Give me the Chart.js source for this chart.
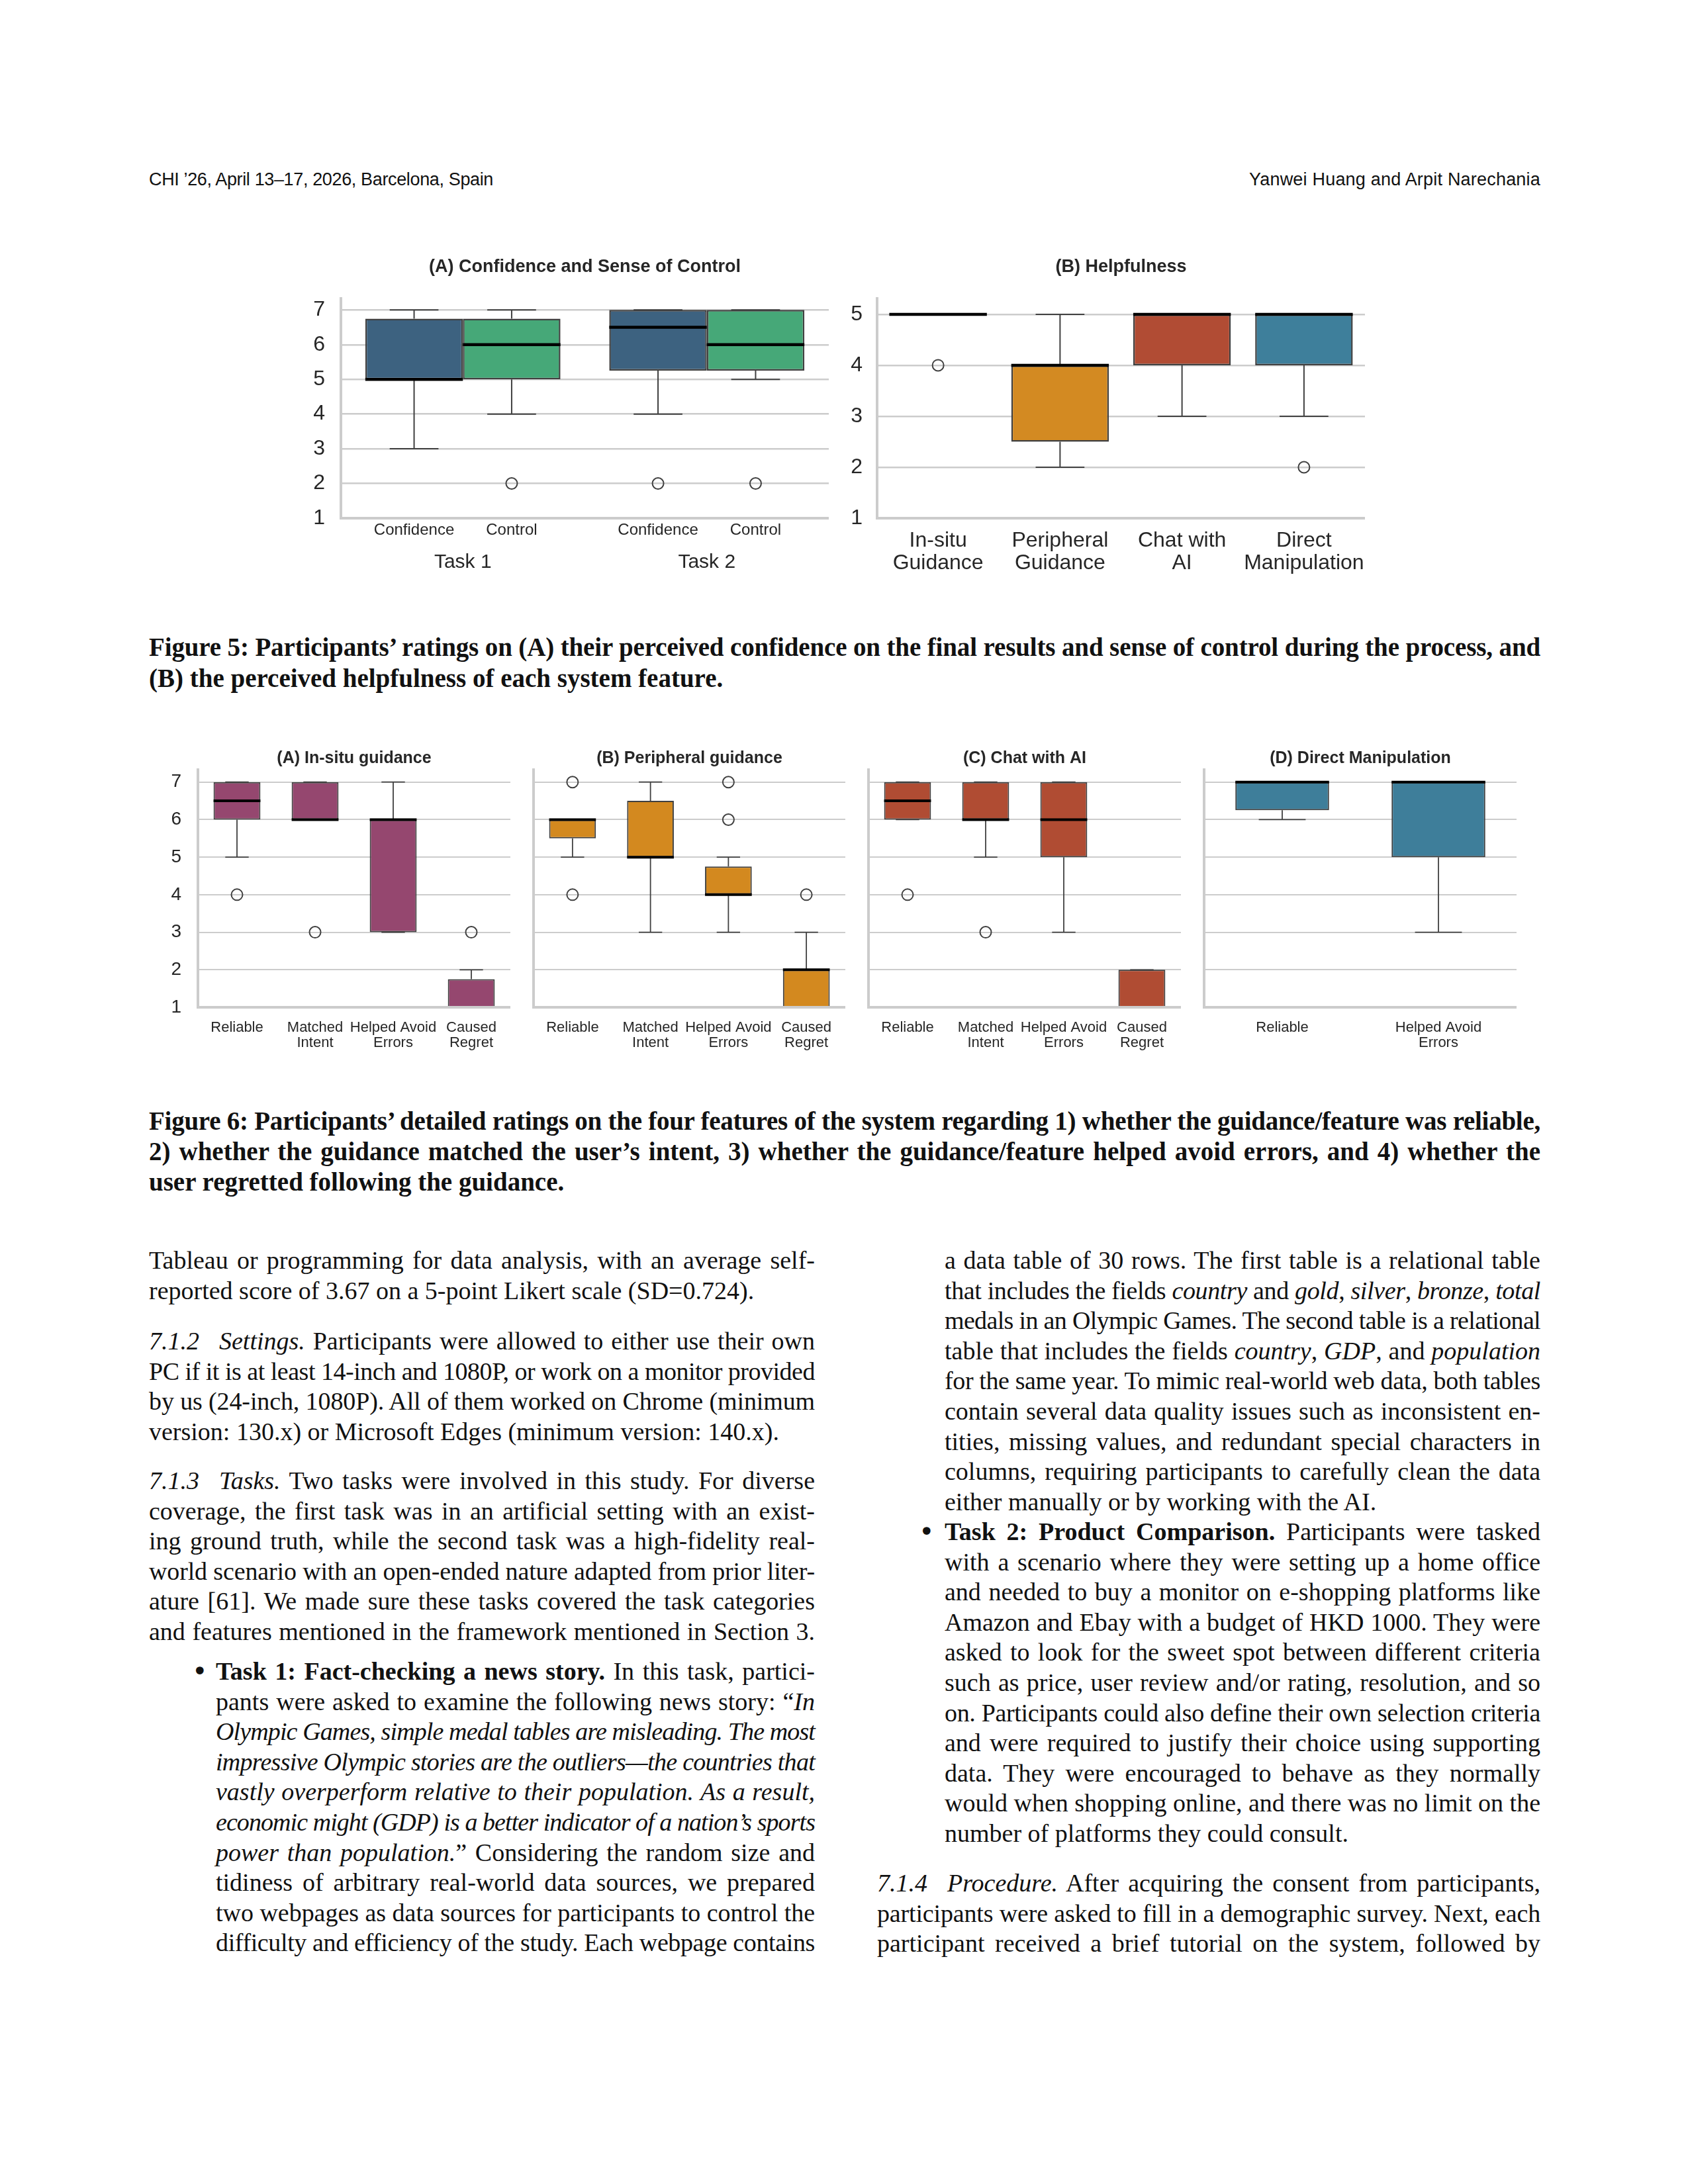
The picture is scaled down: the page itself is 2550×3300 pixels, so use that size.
<!DOCTYPE html>
<html>
<head>
<meta charset="utf-8">
<script src="https://cdn.jsdelivr.net/npm/chart.js@4.4.1/dist/chart.umd.min.js"></script>
<style>
  body { margin: 0; background: #fff; }
  #page { position: relative; width: 2550px; height: 3300px; background: #fff; overflow: hidden; }
  canvas { position: absolute; }
  .ln { position: absolute; height: 46px; line-height: 46px; white-space: nowrap; color: #111;
        font-family: 'Liberation Serif', 'Times New Roman', serif; font-size: 38px; }
  .ln span { display: inline-block; white-space: nowrap; }
  .cap { font-weight: bold; font-size: 39px; }
  .hdr { font-family: 'Liberation Sans Narrow', 'Liberation Sans', Arial, sans-serif; font-size: 27px; }
  .bul { position: absolute; font-family: 'DejaVu Sans', sans-serif; font-size: 40px; line-height: 46px; height: 46px; color: #111; }
  .q { display: inline-block; width: 30px; }
</style>
</head>
<body>
<div id="page">
  <canvas id="fig5a" width="812" height="510" style="left:440px;top:370px;width:812px;height:510px"></canvas>
  <canvas id="fig5b" width="782" height="510" style="left:1280px;top:370px;width:782px;height:510px"></canvas>
  <canvas id="fig6a" width="551" height="490" style="left:220px;top:1110px;width:551px;height:490px"></canvas>
  <canvas id="fig6b" width="481" height="490" style="left:796px;top:1110px;width:481px;height:490px"></canvas>
  <canvas id="fig6c" width="482" height="490" style="left:1302px;top:1110px;width:482px;height:490px"></canvas>
  <canvas id="fig6d" width="482" height="490" style="left:1809px;top:1110px;width:482px;height:490px"></canvas>
</div>
<script>
// ---------- Figure 5 (A): confidence / sense of control ----------
const taskLabels = ['Task 1', 'Task 2'];
const confLow = [3, 4];
const confQ1 = [5, 5.25];
const confMedian = [5, 6.5];
const confQ3 = [6.75, 7];
const confHigh = [7, 7];
const confOutliers = [[], [2]];
const ctrlLow = [4, 5];
const ctrlQ1 = [5, 5.25];
const ctrlMedian = [6, 6];
const ctrlQ3 = [6.75, 7];
const ctrlHigh = [7, 7];
const ctrlOutliers = [[2], [2]];

// ---------- Figure 5 (B): helpfulness ----------
const helpTicks = [['In-situ', 'Guidance'], ['Peripheral', 'Guidance'], ['Chat with', 'AI'], ['Direct', 'Manipulation']];
const helpLow = [5, 2, 3, 3];
const helpQ1 = [5, 2.5, 4, 4];
const helpMedian = [5, 4, 5, 5];
const helpQ3 = [5, 4, 5, 5];
const helpHigh = [5, 5, 5, 5];
const helpOutliers = [[4], [], [], [2]];

// ---------- Figure 6: detailed ratings ----------
const featureTicks = ['Reliable', ['Matched', 'Intent'], ['Helped Avoid', 'Errors'], ['Caused', 'Regret']];
const directTicks = ['Reliable', ['Helped Avoid', 'Errors']];

const insituLow = [5, 6, 3, 1];
const insituQ1 = [6, 6, 3, 1];
const insituMedian = [6.5, 6, 6, 1];
const insituQ3 = [7, 7, 6, 1.75];
const insituHigh = [7, 7, 7, 2];
const insituOutliers = [[4], [3], [], [3]];

const periphLow = [5, 3, 3, 1];
const periphQ1 = [5.5, 5, 4, 1];
const periphMedian = [6, 5, 4, 2];
const periphQ3 = [6, 6.5, 4.75, 2];
const periphHigh = [6, 7, 5, 3];
const periphOutliers = [[7, 4], [], [7, 6], [4]];

const chatLow = [6, 5, 3, 1];
const chatQ1 = [6, 6, 5, 1];
const chatMedian = [6.5, 6, 6, 1];
const chatQ3 = [7, 7, 7, 2];
const chatHigh = [7, 7, 7, 2];
const chatOutliers = [[4], [3], [], []];

const directLow = [6, 3];
const directQ1 = [6.25, 5];
const directMedian = [7, 7];
const directQ3 = [7, 7];
const directHigh = [7, 7];
const directOutliers = [[], []];

const INK = '#262626';
const GRID = '#cccccc';
const EDGE = '#404040';

Chart.defaults.font.family = "'Liberation Sans', Arial, Helvetica, sans-serif";
Chart.defaults.color = INK;
Chart.defaults.animation = false;
Chart.defaults.events = [];
Chart.defaults.plugins.legend.display = false;
Chart.defaults.plugins.tooltip.enabled = false;

// whiskers, medians, fliers (and group labels) drawn from the bar elements + y scale
const boxParts = {
  id: 'boxParts',
  afterDatasetsDraw(chart, args, o) {
    const ctx = chart.ctx;
    const ys = chart.scales.y;
    chart.data.datasets.forEach((ds, di) => {
      const st = ds.stats;
      chart.getDatasetMeta(di).data.forEach((bar, i) => {
        const x = bar.x;
        const half = bar.width / 2;
        const yq1 = ys.getPixelForValue(st.q1[i]);
        const yq3 = ys.getPixelForValue(st.q3[i]);
        const ylo = ys.getPixelForValue(st.lo[i]);
        const yhi = ys.getPixelForValue(st.hi[i]);
        ctx.save();
        ctx.strokeStyle = EDGE;
        ctx.lineWidth = o.whisker;
        ctx.beginPath();
        ctx.moveTo(x, yq3); ctx.lineTo(x, yhi);
        ctx.moveTo(x, yq1); ctx.lineTo(x, ylo);
        ctx.moveTo(x - half / 2, yhi); ctx.lineTo(x + half / 2, yhi);
        ctx.moveTo(x - half / 2, ylo); ctx.lineTo(x + half / 2, ylo);
        ctx.stroke();

        const ym = ys.getPixelForValue(st.med[i]);
        ctx.strokeStyle = '#000';
        ctx.lineWidth = o.median;
        ctx.beginPath();
        ctx.moveTo(x - half, ym); ctx.lineTo(x + half, ym);
        ctx.stroke();

        ctx.strokeStyle = EDGE;
        ctx.lineWidth = o.flierWidth;
        st.out[i].forEach(v => {
          ctx.beginPath();
          ctx.arc(x, ys.getPixelForValue(v), o.flier, 0, Math.PI * 2);
          ctx.stroke();
        });

        if (o.subLabels) {
          ctx.fillStyle = INK;
          ctx.font = o.subSize + "px 'Liberation Sans', Arial, sans-serif";
          ctx.textAlign = 'center';
          ctx.textBaseline = 'middle';
          ctx.fillText(ds.label, x, chart.chartArea.bottom + o.subOffset);
        }
        ctx.restore();
      });
    });
  }
};

function boxChart(id, p) {
  return new Chart(document.getElementById(id), {
    type: 'bar',
    data: {
      labels: p.labels,
      datasets: p.series.map(s => ({
        label: s.name,
        data: s.q1.map((v, i) => [v, s.q3[i]]),
        stats: s,
        backgroundColor: s.color,
        borderColor: EDGE,
        borderWidth: p.edge,
        borderSkipped: false,
        categoryPercentage: p.cat,
        barPercentage: 1
      }))
    },
    options: {
      responsive: false,
      devicePixelRatio: 1,
      layout: { padding: 0 },
      scales: {
        x: {
          grid: { display: false, drawTicks: false },
          border: { display: true, color: GRID, width: p.spine, z: 1 },
          ticks: { padding: p.xPad, color: INK, maxRotation: 0, autoSkip: false,
                   font: { size: p.xSize, lineHeight: p.xLine } },
          afterFit: s => { s.height = p.xHeight; s.paddingLeft = 0; s.paddingRight = 0; }
        },
        y: {
          min: 1,
          max: p.yMax,
          grid: { color: GRID, lineWidth: p.grid, drawTicks: false },
          border: { display: true, color: GRID, width: p.spine, z: 1 },
          ticks: { display: p.showY, stepSize: 1, includeBounds: false, padding: p.yPad,
                   color: INK, font: { size: p.ySize } },
          afterFit: s => { s.width = p.yWidth; s.paddingTop = 0; s.paddingBottom = 0; }
        }
      },
      plugins: {
        title: { display: true, text: p.title, fullSize: false, color: INK,
                 font: { size: p.titleSize, weight: 'bold', lineHeight: 1.2 },
                 padding: p.titlePad },
        boxParts: { whisker: p.whisker, median: p.median, flier: 8.5, flierWidth: 2,
                    subLabels: !!p.subLabels, subOffset: 18, subSize: 24 }
      }
    },
    plugins: [boxParts]
  });
}

const fig5 = { yWidth: 0, xHeight: 97, titleSize: 27, titlePad: { top: 17, bottom: 31.6 },
  spine: 4, grid: 2.5, edge: 2.5, whisker: 2, median: 4.5, ySize: 32, cat: 0.8 };
const fig6 = { xHeight: 78, titleSize: 25, titlePad: { top: 21, bottom: 2 },
  spine: 4, grid: 2, edge: 2, whisker: 1.8, median: 4, ySize: 28, cat: 0.6,
  xSize: 22, xLine: 1.02, xPad: 20, yMax: 7.33, yPad: 25 };

boxChart('fig5a', Object.assign({}, fig5, {
  labels: taskLabels, title: '(A) Confidence and Sense of Control', yMax: 7.33, yWidth: 75,
  yPad: 24, showY: true, xSize: 30, xLine: 1.2, xPad: 49, subLabels: true,
  series: [
    { name: 'Confidence', color: '#3d6280', lo: confLow, q1: confQ1, med: confMedian, q3: confQ3, hi: confHigh, out: confOutliers },
    { name: 'Control', color: '#46a878', lo: ctrlLow, q1: ctrlQ1, med: ctrlMedian, q3: ctrlQ3, hi: ctrlHigh, out: ctrlOutliers }
  ]
}));

boxChart('fig5b', Object.assign({}, fig5, {
  labels: helpTicks, title: '(B) Helpfulness', yMax: 5.31, yWidth: 45,
  yPad: 22, showY: true, xSize: 32, xLine: 1.04, xPad: 18,
  series: [
    { name: 'Helpfulness', color: ['#95476f', '#d38a22', '#b14c34', '#3e7f9b'],
      lo: helpLow, q1: helpQ1, med: helpMedian, q3: helpQ3, hi: helpHigh, out: helpOutliers }
  ]
}));

boxChart('fig6a', Object.assign({}, fig6, {
  labels: featureTicks, title: '(A) In-situ guidance', yWidth: 79, showY: true,
  series: [{ name: 'In-situ', color: '#95476f', lo: insituLow, q1: insituQ1, med: insituMedian, q3: insituQ3, hi: insituHigh, out: insituOutliers }]
}));
boxChart('fig6b', Object.assign({}, fig6, {
  labels: featureTicks, title: '(B) Peripheral guidance', yWidth: 10, showY: false,
  series: [{ name: 'Peripheral', color: '#d3891f', lo: periphLow, q1: periphQ1, med: periphMedian, q3: periphQ3, hi: periphHigh, out: periphOutliers }]
}));
boxChart('fig6c', Object.assign({}, fig6, {
  labels: featureTicks, title: '(C) Chat with AI', yWidth: 10, showY: false,
  series: [{ name: 'Chat', color: '#b04c33', lo: chatLow, q1: chatQ1, med: chatMedian, q3: chatQ3, hi: chatHigh, out: chatOutliers }]
}));
boxChart('fig6d', Object.assign({}, fig6, {
  labels: directTicks, title: '(D) Direct Manipulation', yWidth: 10, showY: false,
  series: [{ name: 'Direct', color: '#3e7e9a', lo: directLow, q1: directQ1, med: directMedian, q3: directQ3, hi: directHigh, out: directOutliers }]
}));

// ---------- page text ----------
const page = document.getElementById('page');
const PITCH = 45.6;

function addLine(html, x, yc, w, mode, cls) {
  const d = document.createElement('div');
  d.className = 'ln' + (cls ? ' ' + cls : '');
  d.style.left = x + 'px';
  d.style.top = (yc - 23) + 'px';
  const s = document.createElement('span');
  s.innerHTML = html;
  d.appendChild(s);
  page.appendChild(d);
  if (mode === 'j' || mode === 'fit') {
    let nat = s.getBoundingClientRect().width;
    const n = s.textContent.length;
    if (nat > w || mode === 'fit') {
      s.style.letterSpacing = ((w - nat) / n) + 'px';
      nat = s.getBoundingClientRect().width;
    }
    const spaces = (s.textContent.match(/ /g) || []).length;
    if (mode === 'j' && spaces) s.style.wordSpacing = ((w - nat) / spaces) + 'px';
  }
  return d;
}

function addBlock(lines, x, y0, w) {
  lines.forEach((l, i) => addLine(l[0], x, y0 + i * PITCH, w, l[1]));
}

function addBullet(x, yc) {
  const b = document.createElement('div');
  b.className = 'bul';
  b.style.left = x + 'px';
  b.style.top = (yc - 23) + 'px';
  b.textContent = '•';
  page.appendChild(b);
}

// running header
addLine('CHI ’26, April 13–17, 2026, Barcelona, Spain', 225, 271, 520, 'fit', 'hdr');
addLine('Yanwei Huang and Arpit Narechania', 1887, 271, 440, 'fit', 'hdr');

// captions
addLine('Figure 5: Participants’ ratings on (A) their perceived confidence on the final results and sense of control during the process, and', 225, 978, 2102, 'j', 'cap');
addLine('(B) the perceived helpfulness of each system feature.', 225, 1025, 2102, 'n', 'cap');
addLine('Figure 6: Participants’ detailed ratings on the four features of the system regarding 1) whether the guidance/feature was reliable,', 225, 1694, 2102, 'j', 'cap');
addLine('2) whether the guidance matched the user’s intent, 3) whether the guidance/feature helped avoid errors, and 4) whether the', 225, 1740, 2102, 'j', 'cap');
addLine('user regretted following the guidance.', 225, 1786, 2102, 'n', 'cap');

// left column
addBlock([
  ['Tableau or programming for data analysis, with an average self-', 'j'],
  ['reported score of 3.67 on a 5-point Likert scale (SD=0.724).', 'n']
], 225, 1904, 1006);
addBlock([
  ['<i>7.1.2</i><span class="q"></span><i>Settings.</i> Participants were allowed to either use their own', 'j'],
  ['PC if it is at least 14-inch and 1080P, or work on a monitor provided', 'j'],
  ['by us (24-inch, 1080P). All of them worked on Chrome (minimum', 'j'],
  ['version: 130.x) or Microsoft Edges (minimum version: 140.x).', 'n']
], 225, 2026, 1006);
addBlock([
  ['<i>7.1.3</i><span class="q"></span><i>Tasks.</i> Two tasks were involved in this study. For diverse', 'j'],
  ['coverage, the first task was in an artificial setting with an exist-', 'j'],
  ['ing ground truth, while the second task was a high-fidelity real-', 'j'],
  ['world scenario with an open-ended nature adapted from prior liter-', 'j'],
  ['ature [61]. We made sure these tasks covered the task categories', 'j'],
  ['and features mentioned in the framework mentioned in Section 3.', 'j']
], 225, 2237, 1006);
addBullet(290, 2525);
addBlock([
  ['<b>Task 1: Fact-checking a news story.</b> In this task, partici-', 'j'],
  ['pants were asked to examine the following news story: “<i>In</i>', 'j'],
  ['<i>Olympic Games, simple medal tables are misleading. The most</i>', 'j'],
  ['<i>impressive Olympic stories are the outliers—the countries that</i>', 'j'],
  ['<i>vastly overperform relative to their population. As a result,</i>', 'j'],
  ['<i>economic might (GDP) is a better indicator of a nation’s sports</i>', 'j'],
  ['<i>power than population.</i>” Considering the random size and', 'j'],
  ['tidiness of arbitrary real-world data sources, we prepared', 'j'],
  ['two webpages as data sources for participants to control the', 'j'],
  ['difficulty and efficiency of the study. Each webpage contains', 'j']
], 326, 2525, 905);

// right column
addBlock([
  ['a data table of 30 rows. The first table is a relational table', 'j'],
  ['that includes the fields <i>country</i> and <i>gold</i>, <i>silver</i>, <i>bronze</i>, <i>total</i>', 'j'],
  ['medals in an Olympic Games. The second table is a relational', 'j'],
  ['table that includes the fields <i>country</i>, <i>GDP</i>, and <i>population</i>', 'j'],
  ['for the same year. To mimic real-world web data, both tables', 'j'],
  ['contain several data quality issues such as inconsistent en-', 'j'],
  ['tities, missing values, and redundant special characters in', 'j'],
  ['columns, requiring participants to carefully clean the data', 'j'],
  ['either manually or by working with the AI.', 'n']
], 1427, 1904, 900);
addBullet(1388, 2314);
addBlock([
  ['<b>Task 2: Product Comparison.</b> Participants were tasked', 'j'],
  ['with a scenario where they were setting up a home office', 'j'],
  ['and needed to buy a monitor on e-shopping platforms like', 'j'],
  ['Amazon and Ebay with a budget of HKD 1000. They were', 'j'],
  ['asked to look for the sweet spot between different criteria', 'j'],
  ['such as price, user review and/or rating, resolution, and so', 'j'],
  ['on. Participants could also define their own selection criteria', 'j'],
  ['and were required to justify their choice using supporting', 'j'],
  ['data. They were encouraged to behave as they normally', 'j'],
  ['would when shopping online, and there was no limit on the', 'j'],
  ['number of platforms they could consult.', 'n']
], 1427, 2314, 900);
addBlock([
  ['<i>7.1.4</i><span class="q"></span><i>Procedure.</i> After acquiring the consent from participants,', 'j'],
  ['participants were asked to fill in a demographic survey. Next, each', 'j'],
  ['participant received a brief tutorial on the system, followed by', 'j']
], 1325, 2845, 1002);
</script>
</body>
</html>
